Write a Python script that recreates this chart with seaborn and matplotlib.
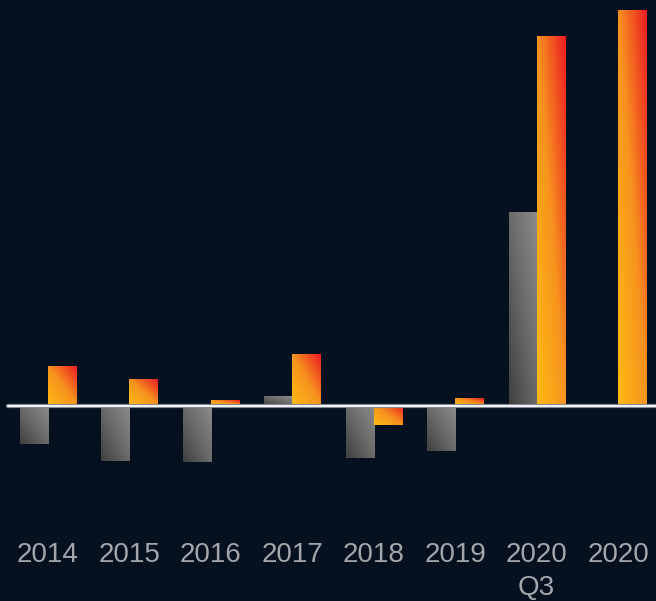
import numpy as np
import pandas as pd
import matplotlib
matplotlib.use("Agg")
import matplotlib.pyplot as plt
from matplotlib.colors import LinearSegmentedColormap
import seaborn as sns

categories = ["2014", "2015", "2016", "2017", "2018", "2019", "2020\nQ3", "2020"]
series_a = [-3.9, -5.6, -5.7, 0.9, -5.3, -4.6, 19.3, 0.0]   # grey series
series_b = [3.9, 2.6, 0.5, 5.1, -2.0, 0.7, 36.9, 39.5]      # orange series
series_names = ["A", "B"]

BG = "#06111f"
TXT = "#a3a7ab"

sns.set_style("dark")
plt.rcParams["font.family"] = ["Liberation Sans Narrow", "Liberation Sans", "DejaVu Sans"]

df = pd.DataFrame({
    "cat": categories * 2,
    "value": series_a + series_b,
    "series": [series_names[0]] * len(categories) + [series_names[1]] * len(categories),
})

fig = plt.figure(figsize=(6.56, 6.01), dpi=100, facecolor=BG)
ax = fig.add_axes([0, (601 - 520) / 601, 1, 520 / 601])
ax.set_facecolor(BG)

sns.barplot(data=df, x="cat", y="value", hue="series", order=categories,
            hue_order=series_names, palette=["#777777", "#f7941d"],
            width=0.688, errorbar=None, legend=False, ax=ax, linewidth=0)

cmaps = {
    0: LinearSegmentedColormap.from_list("g", ["#404040", "#6a6a6a", "#8c8c8c"]),
    1: LinearSegmentedColormap.from_list("o", ["#fdbb14", "#f7931e", "#ed1c24"]),
}
n = 80
u = np.linspace(0, 1, n)
U, V = np.meshgrid(u, u)
Z = (U + V) / 2

ncat = len(categories)
for i, p in enumerate(ax.patches):
    h = p.get_height()
    if h == 0 or np.isnan(h):
        p.set_visible(False)
        continue
    s = 0 if i < ncat else 1
    x0 = p.get_x()
    x1 = x0 + p.get_width()
    y0 = min(p.get_y(), p.get_y() + h)
    y1 = max(p.get_y(), p.get_y() + h)
    ax.imshow(Z, cmap=cmaps[s], extent=[x0, x1, y0, y1], origin="lower",
              aspect="auto", interpolation="bilinear", zorder=2)
    p.set_facecolor("none")

ax.set_autoscale_on(False)
ax.set_xlim(-48 / 81.43, (656 - 48) / 81.43)
ax.set_ylim(-11.45, 40.55)

xmin_frac = 8 / 656
ax.axhline(0, xmin=xmin_frac, xmax=1, color="#7d8590", lw=3.0, zorder=3)
ax.axhline(0, xmin=xmin_frac, xmax=1, color="#f2f2f2", lw=1.5, zorder=4)

ax.set_xlabel("")
ax.set_ylabel("")
ax.set_yticks([])
ax.tick_params(axis="x", length=0, pad=15.5, labelsize=20, labelcolor=TXT)
for lab in ax.get_xticklabels():
    lab.set_linespacing(1.35)
for sp in ax.spines.values():
    sp.set_visible(False)
ax.grid(False)

fig.savefig("out.png", dpi=100, facecolor=BG)
